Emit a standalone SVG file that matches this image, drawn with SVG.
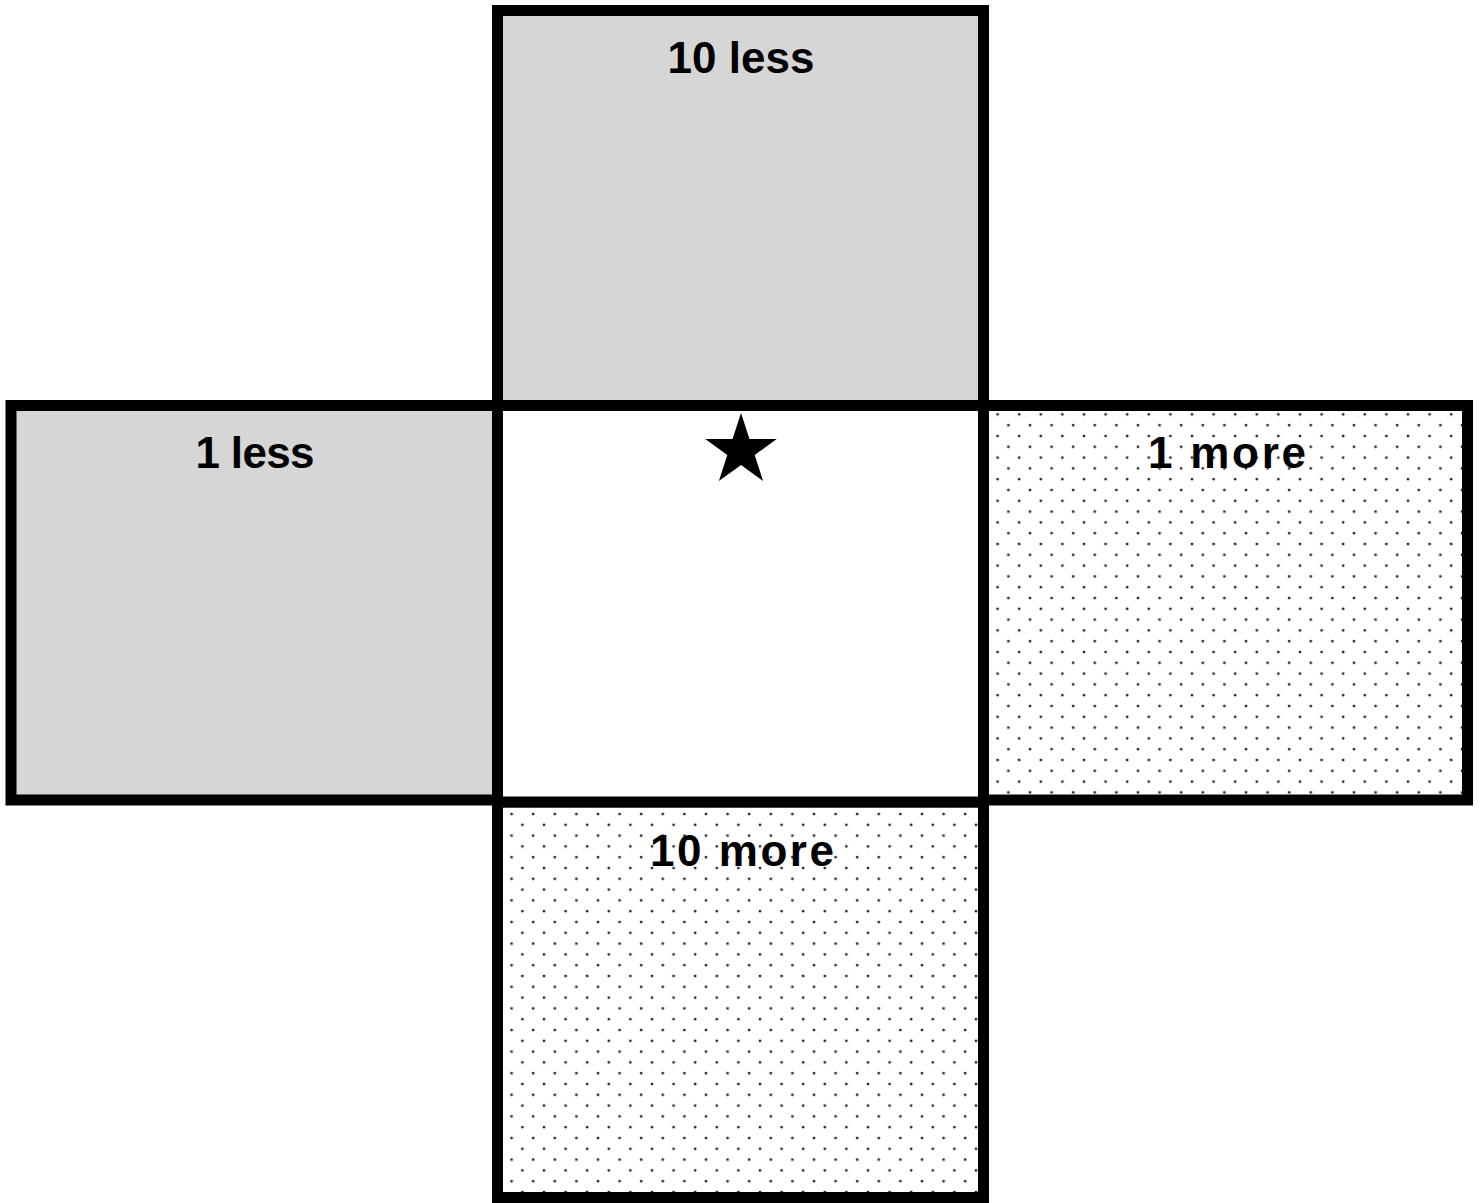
<svg xmlns="http://www.w3.org/2000/svg" width="1481" height="1203" viewBox="0 0 1481 1203">
<defs>
<pattern id="dots" x="0" y="0" width="21.6" height="21.6" patternUnits="userSpaceOnUse">
<circle cx="4" cy="4" r="1.4" fill="#222"/>
<circle cx="14.8" cy="14.8" r="1.4" fill="#222"/>
</pattern>
</defs>
<style>
.box{stroke:#000;stroke-width:11}
.gray{fill:#d6d6d6}
.white{fill:#fff}
.dotted{fill:url(#dots)}
.lbl{font-family:"Liberation Sans",Arial,sans-serif;font-weight:bold;font-size:44px;fill:#000;text-anchor:middle}
</style>
<rect width="1481" height="1203" fill="#fff"/>
<g id="ten-less">
<rect class="box gray" x="497.5" y="10.5" width="486" height="395"/>
<text class="lbl" x="741" y="73" textLength="147">10 less</text>
</g>
<g id="one-less">
<rect class="box gray" x="11" y="405.5" width="486.5" height="394.5"/>
<text class="lbl" x="255" y="468" textLength="119">1 less</text>
</g>
<g id="one-more">
<rect class="box white" x="983.5" y="405.5" width="484" height="394.5"/>
<rect class="dotted" x="989" y="411" width="473" height="383.5"/>
<text class="lbl" x="1227" y="468" textLength="158">1 more</text>
</g>
<g id="ten-more">
<rect class="box white" x="497.5" y="802" width="486" height="395.5"/>
<rect class="dotted" x="503" y="807.5" width="475" height="384.5"/>
<text class="lbl" x="742" y="866" textLength="184">10 more</text>
</g>
<g id="center">
<rect class="box white" x="497.5" y="405.5" width="486" height="396.5"/>
<polygon fill="#000" points="741,413 749.46,438.95 776.76,438.98 754.7,455.05 763.1,481.02 741,465 718.9,481.02 727.3,455.05 705.24,438.98 732.54,438.95"/>
</g>
<g id="connectors"/>
</svg>
